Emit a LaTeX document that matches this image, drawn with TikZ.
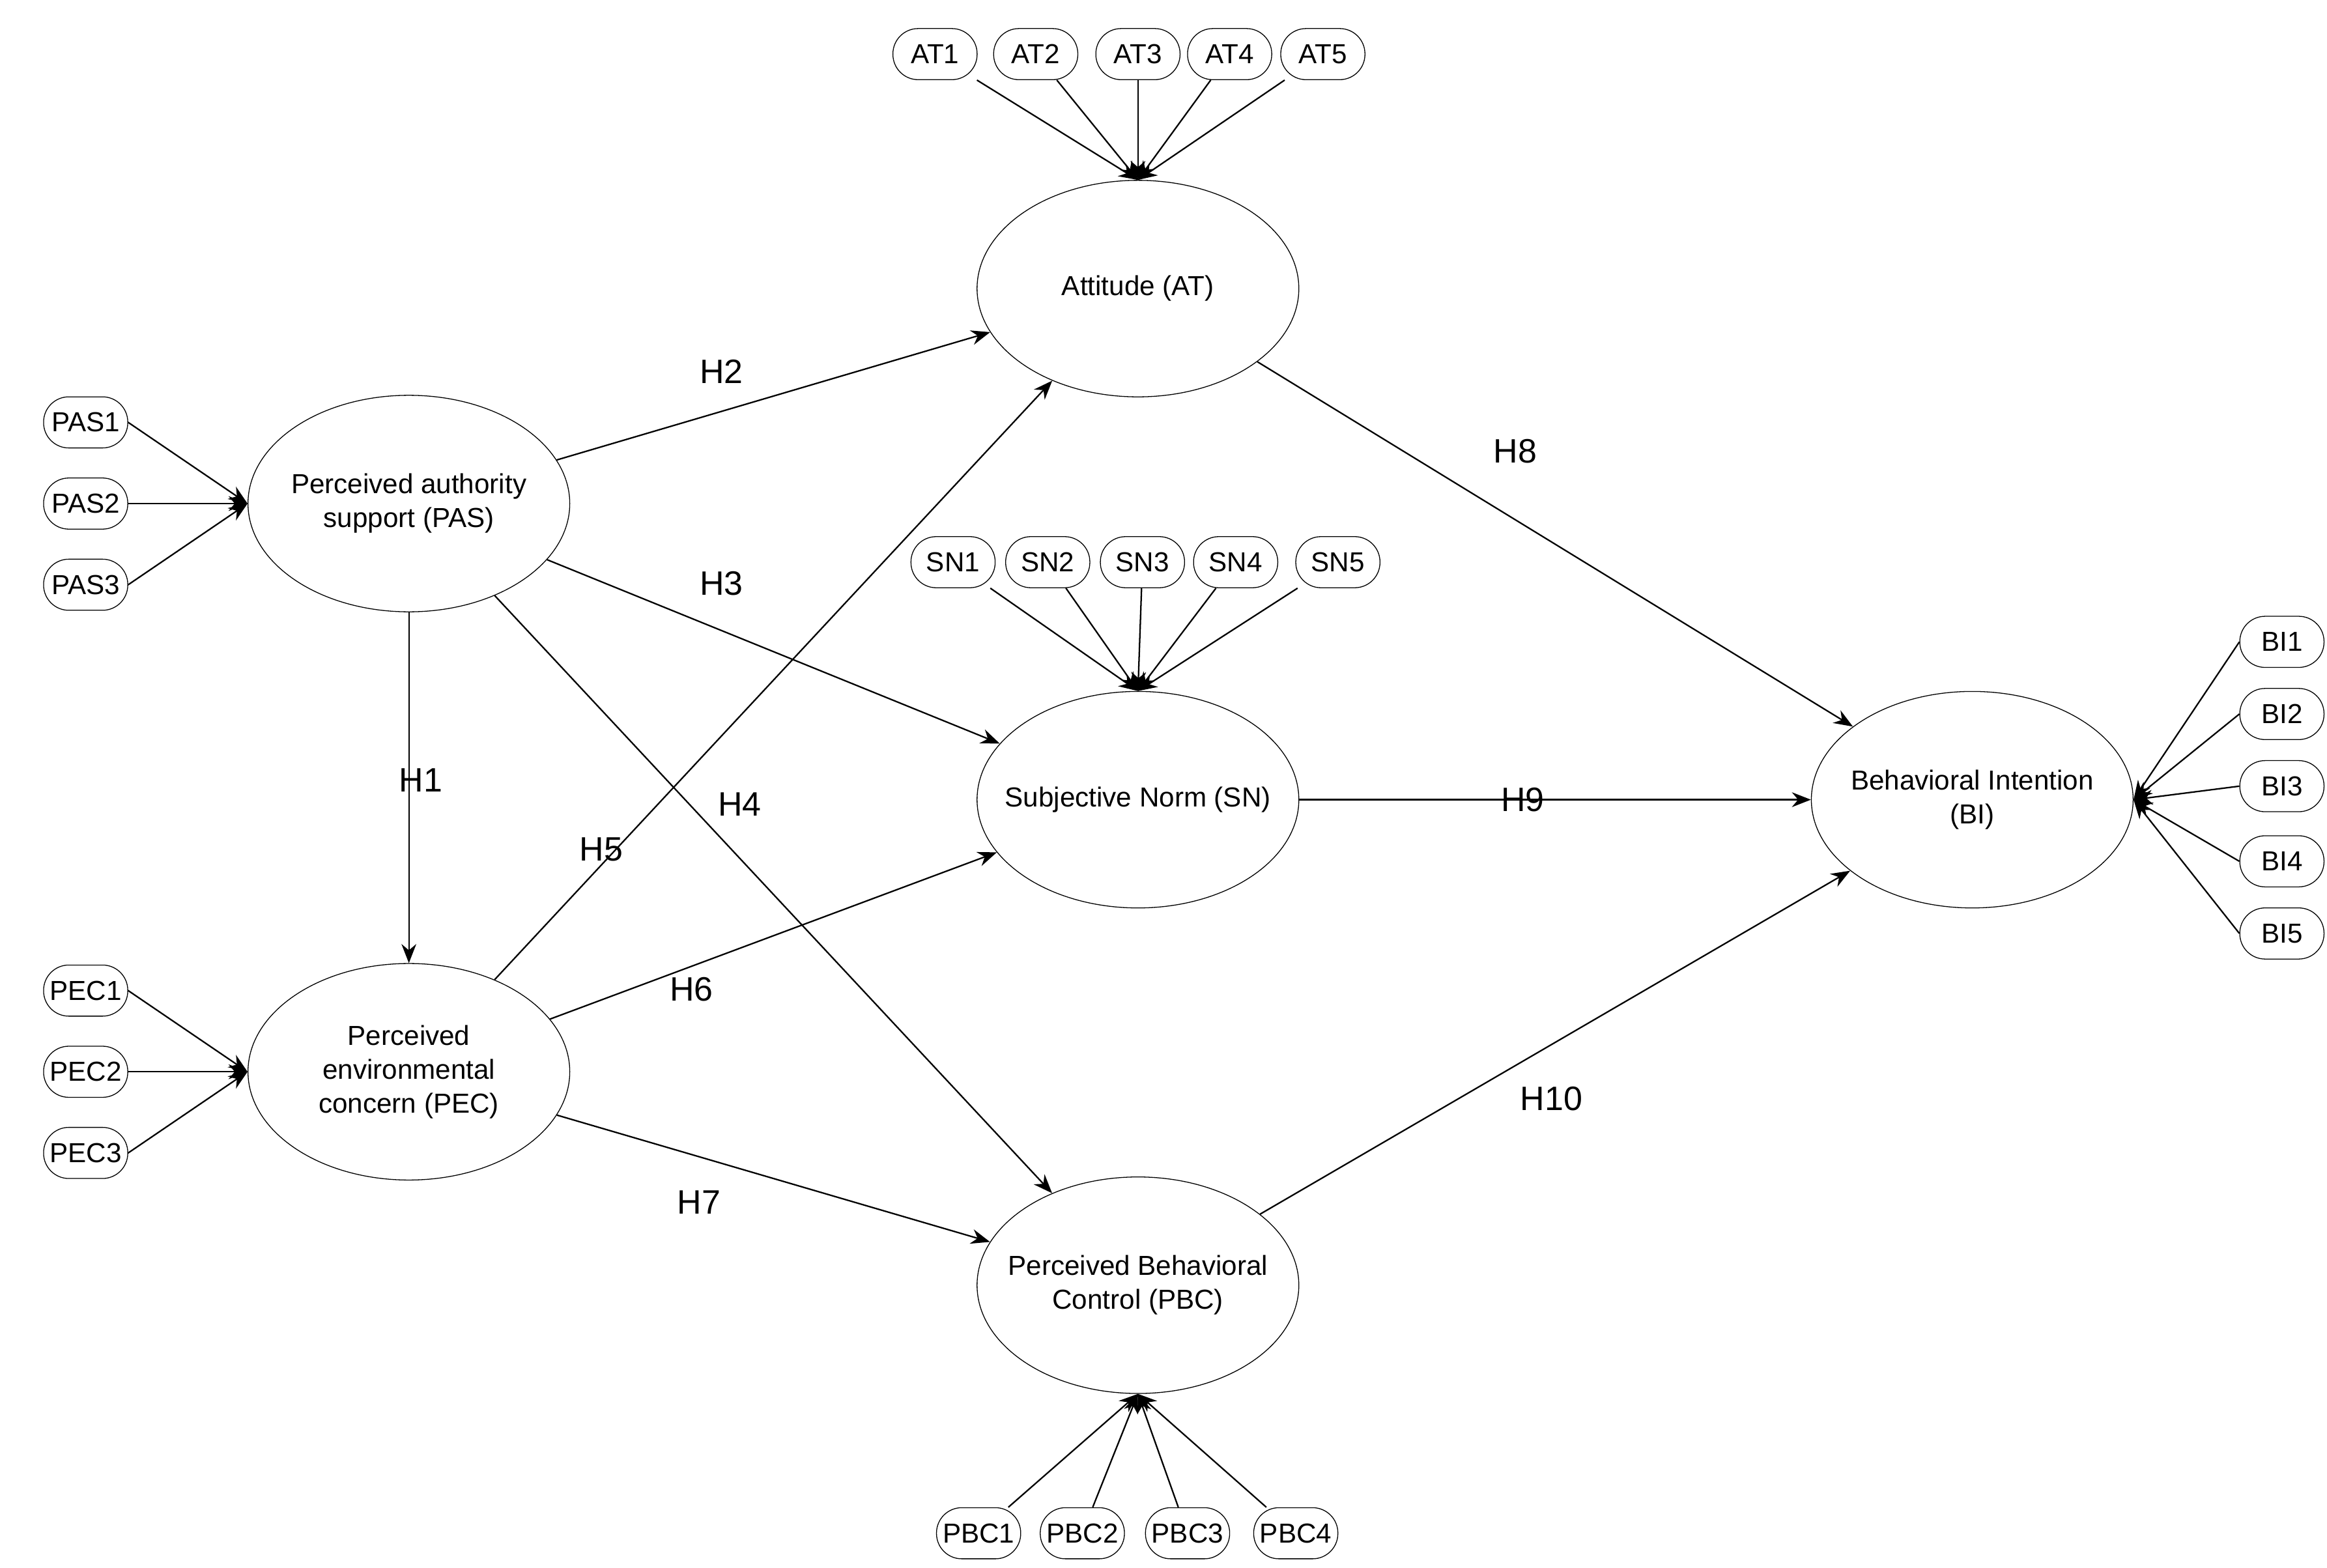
\documentclass[tikz,border=0pt]{standalone}
\usepackage{fontspec}
\setmainfont{Liberation Sans}
\usetikzlibrary{shapes.geometric,arrows.meta}
\tikzset{
  construct/.style={shape=ellipse, draw, minimum width=5.35cm, minimum height=3.6cm, inner xsep=-0.6cm, inner ysep=0pt, align=center, font=\fontsize{13}{16}\selectfont},
  item/.style={shape=rectangle, rounded corners=0.42cm, draw, minimum width=1.4cm, minimum height=0.85cm, inner sep=1pt, font=\fontsize{13}{15}\selectfont},
  hyp/.style={font=\fontsize{16}{18}\selectfont},
  path/.style={-{Stealth[length=9pt,width=7pt]}, line width=0.7pt},
}
\begin{document}
\begin{tikzpicture}[x=0.025cm,y=-0.025cm]
\useasboundingbox (0,0) rectangle (1548,1043);

\path (757,192) node (AT) [construct] {Attitude (AT)};
\path (272,335) node (PAS) [construct] {Perceived authority\\support (PAS)};
\path (757,532) node (SN) [construct] {Subjective Norm (SN)};
\path (272,713) node (PEC) [construct] {Perceived\\environmental\\concern (PEC)};
\path (757,855) node (PBC) [construct] {Perceived Behavioral\\Control (PBC)};
\path (1312,532) node (BI) [construct] {Behavioral Intention\\(BI)};

% indicators
\foreach \i/\x in {1/622,2/689,3/757,4/818,5/880}{
  \path (\x,36) node (AT\i) [item] {AT\i};
  \draw[path] (AT\i) -- (AT.north);
}
\foreach \i/\x in {1/634,2/697,3/760,4/822,5/890}{
  \path (\x,374) node (SN\i) [item] {SN\i};
  \draw[path] (SN\i) -- (SN.north);
}
\foreach \i/\y in {1/281,2/335,3/389}{
  \path (57,\y) node (PAS\i) [item] {PAS\i};
  \draw[path] (PAS\i.east) -- (PAS.west);
}
\foreach \i/\y in {1/659,2/713,3/767}{
  \path (57,\y) node (PEC\i) [item] {PEC\i};
  \draw[path] (PEC\i.east) -- (PEC.west);
}
\foreach \i/\x in {1/651,2/720,3/790,4/862}{
  \path (\x,1020) node (PBC\i) [item] {PBC\i};
  \draw[path] (PBC\i) -- (PBC.south);
}
\foreach \i/\y in {1/427,2/475,3/523,4/573,5/621}{
  \path (1518,\y) node (BI\i) [item] {BI\i};
  \draw[path] (BI\i.west) -- (BI.east);
}

% hypotheses
\draw[path] (PAS) -- (PEC);
\draw[path] (PAS) -- (AT);
\draw[path] (PAS) -- (SN);
\draw[path] (PAS) -- (PBC);
\draw[path] (PEC) -- (AT);
\draw[path] (PEC) -- (SN);
\draw[path] (PEC) -- (PBC);
\draw[path] (AT) -- (BI);
\draw[path] (SN) -- (BI);
\draw[path] (PBC) -- (BI);

\path (280,519) node (H1) [hyp] {H1};
\path (480,247) node (H2) [hyp] {H2};
\path (480,388) node (H3) [hyp] {H3};
\path (492,535) node (H4) [hyp] {H4};
\path (400,565) node (H5) [hyp] {H5};
\path (460,658) node (H6) [hyp] {H6};
\path (465,800) node (H7) [hyp] {H7};
\path (1008,300) node (H8) [hyp] {H8};
\path (1013,532) node (H9) [hyp] {H9};
\path (1032,731) node (H10) [hyp] {H10};

\end{tikzpicture}
\end{document}
